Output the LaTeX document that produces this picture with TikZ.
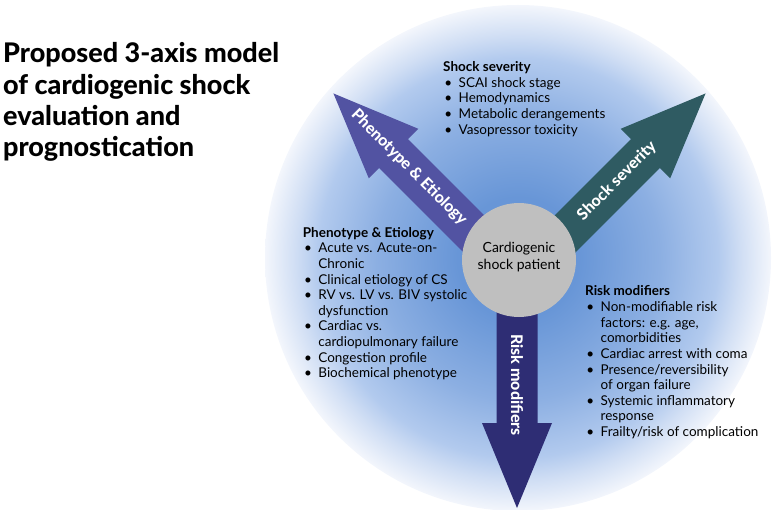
\documentclass[tikz,border=0pt]{standalone}
\usepackage{fontspec}
\setmainfont{Lato}
\IfFontExistsTF{Lato Heavy}{\newfontfamily\titlefont{Lato Heavy}\newcommand\titleweight{}}{\newfontfamily\titlefont{Lato}\newcommand\titleweight{\bfseries}}
\definecolor{bgA}{RGB}{104,150,215}
\definecolor{bgB}{RGB}{140,175,226}
\definecolor{bgC}{RGB}{178,202,238}
\definecolor{bgD}{RGB}{208,222,244}
\definecolor{bgE}{RGB}{243,246,252}
\definecolor{phenC}{RGB}{82,83,162}
\definecolor{sevC}{RGB}{47,91,98}
\definecolor{riskC}{RGB}{46,45,116}
\definecolor{coreC}{RGB}{191,191,191}
\pgfdeclareradialshading{bgshade}{\pgfpoint{0bp}{0bp}}{color(0bp)=(bgA); color(6bp)=(bgA); color(14bp)=(bgB); color(19.75bp)=(bgC); color(22bp)=(bgD); color(25bp)=(bgE); color(50bp)=(bgE)}
\newcommand\axisarrow[4]{%
  \fill[#1, shift={#2}, rotate=#3] (0,-20.5) -- ({#4-85},-20.5) -- ({#4-85},-35) -- (#4,0) -- ({#4-85},35) -- ({#4-85},20.5) -- (0,20.5) -- cycle;}
\newcommand\bul{\makebox[15.5bp][l]{\hspace{1.2bp}\textbullet}}
\begin{document}
\begin{tikzpicture}[x=1bp,y=-1bp,
  arrowtxt/.style={text=white, font=\fontsize{16bp}{20bp}\selectfont\titlefont\titleweight, inner sep=0pt},
  body/.style={font=\fontsize{13.5bp}{15.6bp}\selectfont, inner sep=0pt, anchor=base west, text=black}]
\useasboundingbox (0,0) rectangle (777,510);
\shade[shading=bgshade] (518,258) circle[radius=253];
% arrows
\axisarrow{phenC}{(518,278)}{135}{261}
\axisarrow{sevC}{(521,278)}{45}{261}
\axisarrow{riskC}{(517,278)}{-90}{230}
% core
\node[circle, fill=coreC, minimum size=114bp, inner sep=0pt] (core) at (519,260) {};
\node[align=center, inner sep=0pt, font=\fontsize{14bp}{17bp}\selectfont] (coreTxt) at (519,257) {Cardiogenic\\shock patient};
% arrow labels
\node[arrowtxt, rotate=-45] (phenLbl) at (409,167.5) {Phenotype \& Etiology};
\node[arrowtxt, rotate=45] (sevLbl) at (617,181) {Shock severity};
\node[arrowtxt, rotate=-90] (riskLbl) at (517,385) {Risk modifiers};
% title
\node[anchor=base west, inner sep=0pt, font=\fontsize{27bp}{31.2bp}\selectfont\titlefont\titleweight] (title) at (3,63) {\begin{tabular}[t]{@{}l@{}}Proposed 3-axis model\\ of cardiogenic shock\\ evaluation and\\ prognostication\end{tabular}};
% lists
\node[body] (sevList) at (443,71.7) {\begin{tabular}[t]{@{}l@{}l@{}}
\multicolumn{2}{@{}l@{}}{\bfseries Shock severity}\\
\bul & SCAI shock stage\\
\bul & Hemodynamics\\
\bul & Metabolic derangements\\
\bul & Vasopressor toxicity
\end{tabular}};
\node[body] (phenList) at (302.7,237.3) {\begin{tabular}[t]{@{}l@{}l@{}}
\multicolumn{2}{@{}l@{}}{\bfseries Phenotype \& Etiology}\\
\bul & Acute vs. Acute-on-\\
 & Chronic\\
\bul & Clinical etiology of CS\\
\bul & RV vs. LV vs. BIV systolic\\
 & dysfunction\\
\bul & Cardiac vs.\\
 & cardiopulmonary failure\\
\bul & Congestion profile\\
\bul & Biochemical phenotype
\end{tabular}};
\node[body] (riskList) at (585,296) {\begin{tabular}[t]{@{}l@{}l@{}}
\multicolumn{2}{@{}l@{}}{\bfseries Risk modifiers}\\
\bul & Non-modifiable risk\\
 & factors: e.g. age,\\
 & comorbidities\\
\bul & Cardiac arrest with coma\\
\bul & Presence/reversibility\\
 & of organ failure\\
\bul & Systemic inflammatory\\
 & response\\
\bul & Frailty/risk of complication
\end{tabular}};
\end{tikzpicture}
\end{document}
